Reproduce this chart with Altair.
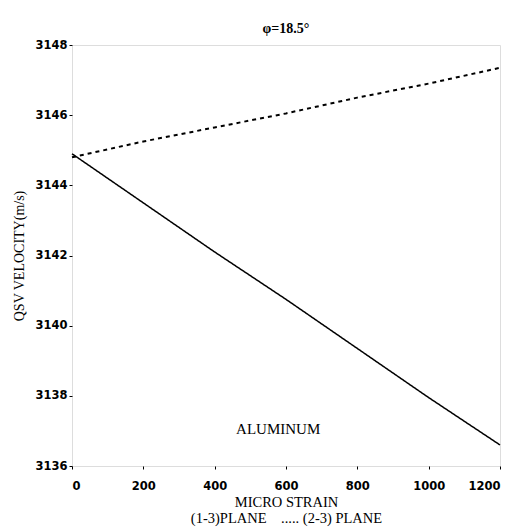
import altair as alt
import pandas as pd

strain = [0, 200, 400, 600, 800, 1000, 1200]
plane13 = [3144.9, 3143.5, 3142.1, 3140.75, 3139.35, 3137.95, 3136.6]
plane23 = [3144.8, 3145.25, 3145.65, 3146.05, 3146.5, 3146.9, 3147.35]
x_ticks = [0, 200, 400, 600, 800, 1000, 1200]
y_ticks = [3136, 3138, 3140, 3142, 3144, 3146, 3148]

rows = []
for s, a, b in zip(strain, plane13, plane23):
    rows.append({"strain": s, "v": a, "plane": "(1-3)PLANE"})
    rows.append({"strain": s, "v": b, "plane": "(2-3) PLANE"})
df = pd.DataFrame(rows)

xscale = alt.Scale(domain=[0, 1200], nice=False, zero=False)
yscale = alt.Scale(domain=[3136, 3148], nice=False, zero=False)

xaxis = alt.Axis(values=x_ticks, format="d",
                 title=["MICRO STRAIN", "(1-3)PLANE\u00a0\u00a0\u00a0\u00a0..... (2-3) PLANE"],
                 titleFont="Liberation Serif", titleFontSize=14.5, titleFontWeight="normal",
                 titleLineHeight=16, titlePadding=4,
                 labelFont="DejaVu Sans", labelFontSize=11.5, labelFontWeight="bold",
                 labelPadding=11, tickSize=3, tickColor="black", domain=False, grid=False,
                 labelColor="black", titleColor="black")
yaxis = alt.Axis(values=y_ticks, format="d", title="QSV VELOCITY(m/s)",
                 titleFont="Liberation Serif", titleFontSize=14, titleFontWeight="normal",
                 titlePadding=8,
                 labelFont="DejaVu Sans", labelFontSize=11.5, labelFontWeight="bold",
                 labelPadding=2, tickSize=3, tickColor="black", domain=False, grid=False,
                 labelColor="black", titleColor="black")

lines = alt.Chart(df).mark_line(color="black").encode(
    x=alt.X("strain:Q", scale=xscale, axis=xaxis),
    y=alt.Y("v:Q", scale=yscale, axis=yaxis),
    detail="plane:N",
    strokeDash=alt.StrokeDash("plane:N", scale=alt.Scale(domain=["(1-3)PLANE", "(2-3) PLANE"],
                                                           range=[[1, 0], [4, 4]]), legend=None),
    strokeWidth=alt.StrokeWidth("plane:N", scale=alt.Scale(domain=["(1-3)PLANE", "(2-3) PLANE"],
                                                             range=[1.5, 2]), legend=None),
)

label_df = pd.DataFrame({"strain": [578], "v": [3137.05], "t": ["ALUMINUM"]})
label = alt.Chart(label_df).mark_text(font="Liberation Serif", fontSize=15, color="black").encode(
    x=alt.X("strain:Q", scale=xscale), y=alt.Y("v:Q", scale=yscale), text="t:N")

chart = (lines + label).properties(
    width=428, height=421,
    title=alt.TitleParams("φ=18.5°", font="Liberation Serif", fontSize=14, fontWeight="bold",
                          color="black", offset=3),
    autosize=alt.AutoSizeParams(type="none"),
    padding={"left": 72, "top": 45, "right": 17, "bottom": 64},
).configure_view(stroke="black", strokeWidth=2).configure(background="white")

chart.save("out.html", embed_options={"renderer": "svg", "actions": False})
